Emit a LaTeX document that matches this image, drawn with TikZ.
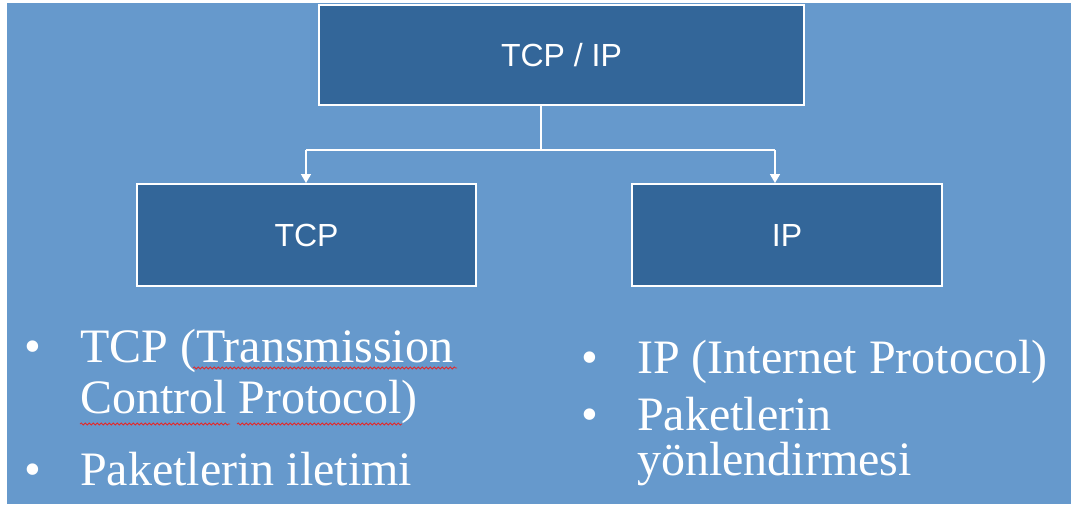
\documentclass[tikz,border=0pt]{standalone}
\usepackage{fontspec}
\setmainfont{Liberation Serif}
\newfontfamily\boxfont{Liberation Sans}
\usetikzlibrary{arrows.meta,decorations.pathmorphing}
\definecolor{bgblue}{RGB}{102,153,204}
\definecolor{boxblue}{RGB}{51,102,153}
\definecolor{spellred}{RGB}{230,40,40}
\tikzset{
  x=1pt,y=-1pt,
  blockbox/.style={draw=white,line width=2pt,fill=boxblue,text=white,inner sep=0pt,
    font=\boxfont\fontsize{32}{32}\selectfont},
  bodytext/.style={anchor=base west,inner sep=0pt,text=white,font=\fontsize{48}{48}\selectfont},
  bulletmark/.style={anchor=base,inner sep=0pt,text=white,font=\fontsize{48}{48}\selectfont},
  linkline/.style={draw=white,line width=1.6pt},
  linkarrow/.style={linkline,-{Triangle[width=10pt,length=9pt]}},
  spellmark/.style={draw=spellred,line width=0.8pt,decorate,decoration={snake,amplitude=1pt,segment length=4pt}}
}
\begin{document}
\begin{tikzpicture}
\useasboundingbox (0,0) rectangle (1071,504);
\fill[white] (0,0) rectangle (1071,504);
\fill[bgblue] (7,3) rectangle (1071,504);

\node[blockbox,minimum width=485pt,minimum height=100pt] (top) at (561.5,55) {TCP / IP};
\node[blockbox,minimum width=339pt,minimum height=102pt] (tcp) at (306.5,235) {TCP};
\node[blockbox,minimum width=310pt,minimum height=102pt] (ip) at (787,235) {IP};

\coordinate (j) at (541,150);
\coordinate (jl) at (306,150);
\coordinate (jr) at (775,150);
\draw[linkline] (top.south -| j) -- (j);
\draw[linkline] (jl) -- (jr);
\draw[linkarrow] (jl) -- (tcp.north -| jl);
\draw[linkarrow] (jr) -- (ip.north -| jr);

% left bullets
\node[bulletmark] (lb1) at (33,362) {\textbullet};
\node[bodytext] (l1) at (80,362) {TCP (Transmission};
\node[bodytext] (l2) at (80,413) {Control Protocol)};
\node[bulletmark] (lb2) at (33,485) {\textbullet};
\node[bodytext] (l3) at (80,485) {Paketlerin iletimi};

\draw[spellmark] (193,368) -- (457,368);
\draw[spellmark] (80,424) -- (230,424);
\draw[spellmark] (237,424) -- (402,424);

% right bullets
\node[bulletmark] (rb1) at (590,373) {\textbullet};
\node[bodytext] (r1) at (637,373) {IP (Internet Protocol)};
\node[bulletmark] (rb2) at (590,430) {\textbullet};
\node[bodytext] (r2) at (637,430) {Paketlerin};
\node[bodytext] (r3) at (637,475) {yönlendirmesi};
\end{tikzpicture}
\end{document}
